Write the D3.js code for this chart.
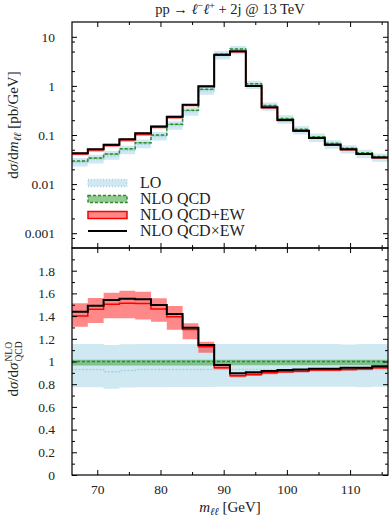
<!DOCTYPE html>
<html>
<head>
<meta charset="utf-8">
<script src="https://cdn.jsdelivr.net/npm/d3@7"></script>
<style>
  body { margin: 0; background: #fff; }
  svg { display: block; }
  text { font-family: "Liberation Serif", "DejaVu Serif", serif; fill: #222; }
</style>
</head>
<body>
<div id="chart"></div>
<script>
// bin edges in GeV (20 bins)
let binEdges = [66, 68.5, 71, 73.5, 76, 78.5, 81, 83.5, 86, 88.5, 91, 93.5, 96, 98.5, 101, 103.5, 106, 108.5, 111, 113.5, 116];

// NLO QCD central values [pb/GeV]
let nloQcd = [0.0295, 0.0342, 0.0412, 0.0526, 0.0698, 0.100, 0.166, 0.319, 0.856, 4.43,
              5.65, 1.105, 0.40, 0.218, 0.131, 0.0925, 0.0678, 0.054, 0.0434, 0.0365];
let nloQcdLo = [0.965, 0.965, 0.965, 0.965, 0.965, 0.965, 0.965, 0.965, 0.965, 0.965,
                0.966, 0.966, 0.966, 0.966, 0.966, 0.966, 0.966, 0.966, 0.966, 0.966];
let nloQcdHi = [1.015, 1.015, 1.015, 1.015, 1.015, 1.015, 1.015, 1.015, 1.015, 1.015,
                1.015, 1.015, 1.015, 1.015, 1.015, 1.015, 1.015, 1.015, 1.015, 1.015];

// ratios to NLO QCD
let loRatio = [0.93, 0.93, 0.91, 0.92, 0.93, 0.93, 0.93, 0.93, 0.93, 0.93,
               0.93, 0.93, 0.93, 0.93, 0.93, 0.93, 0.93, 0.93, 0.93, 0.93];
let loLo = [0.773, 0.773, 0.76, 0.77, 0.773, 0.773, 0.775, 0.775, 0.775, 0.778,
            0.778, 0.778, 0.778, 0.778, 0.778, 0.778, 0.778, 0.778, 0.774, 0.778];
let loHi = [1.154, 1.154, 1.145, 1.152, 1.154, 1.154, 1.154, 1.154, 1.148, 1.154,
            1.154, 1.154, 1.154, 1.154, 1.154, 1.154, 1.154, 1.15, 1.154, 1.154];

let ewPlus = [1.40, 1.46, 1.504, 1.513, 1.51, 1.463, 1.395, 1.283, 1.13, 0.945,
              0.875, 0.885, 0.90, 0.91, 0.915, 0.925, 0.925, 0.93, 0.935, 0.945];
let ewPlusLo = [1.307, 1.34, 1.38, 1.38, 1.37, 1.35, 1.28, 1.196, 1.078, 0.93,
                0.862, 0.872, 0.888, 0.898, 0.903, 0.913, 0.913, 0.918, 0.923, 0.933];
let ewPlusHi = [1.513, 1.56, 1.606, 1.624, 1.615, 1.557, 1.49, 1.336, 1.175, 0.96,
                0.888, 0.898, 0.912, 0.922, 0.927, 0.937, 0.937, 0.942, 0.947, 0.957];

let ewTimes = [1.439, 1.492, 1.542, 1.553, 1.548, 1.498, 1.418, 1.298, 1.145, 0.97,
               0.896, 0.905, 0.916, 0.925, 0.93, 0.937, 0.937, 0.945, 0.945, 0.958];

let xTicks = [70, 80, 90, 100, 110];
let topTicks = [10, 1, 0.1, 0.01, 0.001];
let topTickLabels = ["10", "1", "0.1", "0.01", "0.001"];
let botTicks = [0, 0.2, 0.4, 0.6, 0.8, 1, 1.2, 1.4, 1.6, 1.8];
let legendLabels = ["LO", "NLO QCD", "NLO QCD+EW", "NLO QCD\u00d7EW"];

let width = 390, height = 521,
    pLeft = 72, pRight = 388, pTop = 22, pMid = 248, pBottom = 475;

let svg = d3.select('#chart').append('svg')
    .attr('width', width)
    .attr('height', height);

let x = d3.scaleLinear().domain([66, 116]).range([pLeft, pRight]);
let yTop = d3.scaleLog().domain([0.0005, 20]).range([pMid, pTop]);
let yBot = d3.scaleLinear().domain([0, 2]).range([pBottom, pMid]);

let colors = {
    loFill: '#cfe8f1', loLine: '#a6d4e6',
    qcdFill: 'rgba(60,160,60,0.55)', qcdLine: '#2e8b2e',
    ewFill: 'rgba(255,40,40,0.55)', ewLine: '#ff0000',
    black: '#000'
};

// step helper: values per bin -> points incl. closing edge
function steps(vals) {
    let pts = vals.map((v, i) => [binEdges[i], v]);
    pts.push([binEdges[binEdges.length - 1], vals[vals.length - 1]]);
    return pts;
}

function drawPanel(g, y, series) {
    let line = d3.line().x(d => x(d[0])).y(d => y(d[1])).curve(d3.curveStepAfter);
    let area = d3.area().x(d => x(d[0])).y0(d => y(d[1])).y1(d => y(d[2])).curve(d3.curveStepAfter);
    series.forEach(s => {
        if (s.lo) {
            let pts = s.lo.map((v, i) => [binEdges[i], v, s.hi[i]]);
            pts.push([binEdges[binEdges.length - 1], s.lo[s.lo.length - 1], s.hi[s.hi.length - 1]]);
            g.append('path').attr('d', area(pts)).attr('fill', s.fill).attr('stroke', 'none');
        }
    });
    series.forEach(s => {
        g.append('path').attr('d', line(steps(s.mid)))
            .attr('fill', 'none')
            .attr('stroke', s.stroke)
            .attr('stroke-width', s.width)
            .attr('stroke-dasharray', s.dash || null)
            .attr('stroke-linecap', s.cap || 'butt');
    });
}

let defs = svg.append('defs');
defs.append('clipPath').attr('id', 'clipTop').append('rect')
    .attr('x', pLeft).attr('y', pTop).attr('width', pRight - pLeft).attr('height', pMid - pTop);
defs.append('clipPath').attr('id', 'clipBot').append('rect')
    .attr('x', pLeft).attr('y', pMid).attr('width', pRight - pLeft).attr('height', pBottom - pMid);

// upper panel
let gTop = svg.append('g').attr('clip-path', 'url(#clipTop)');
drawPanel(gTop, yTop, [
    {lo: nloQcd.map((v, i) => v * loLo[i]), hi: nloQcd.map((v, i) => v * loHi[i]),
     mid: nloQcd.map((v, i) => v * loRatio[i]), fill: colors.loFill, stroke: colors.loLine, width: 1.5, dash: '1,2.5', cap: 'round'},
    {lo: nloQcd.map((v, i) => v * nloQcdLo[i]), hi: nloQcd.map((v, i) => v * nloQcdHi[i]),
     mid: nloQcd, fill: colors.qcdFill, stroke: colors.qcdLine, width: 1.5, dash: '3,2'},
    {lo: nloQcd.map((v, i) => v * ewPlusLo[i]), hi: nloQcd.map((v, i) => v * ewPlusHi[i]),
     mid: nloQcd.map((v, i) => v * ewPlus[i]), fill: colors.ewFill, stroke: colors.ewLine, width: 1.5},
    {mid: nloQcd.map((v, i) => v * ewTimes[i]), stroke: colors.black, width: 2}
]);

// lower panel (ratio to NLO QCD)
let gBot = svg.append('g').attr('clip-path', 'url(#clipBot)');
drawPanel(gBot, yBot, [
    {lo: loLo, hi: loHi, mid: loRatio, fill: colors.loFill, stroke: colors.loLine, width: 1.5, dash: '1,2.5', cap: 'round'},
    {lo: nloQcdLo, hi: nloQcdHi, mid: nloQcd.map(() => 1), fill: colors.qcdFill, stroke: colors.qcdLine, width: 1.5, dash: '3,2'},
    {lo: ewPlusLo, hi: ewPlusHi, mid: ewPlus, fill: colors.ewFill, stroke: colors.ewLine, width: 1.5},
    {mid: ewTimes, stroke: colors.black, width: 2}
]);

// axes
let fs = '13.5px';
function styleAxis(g) {
    g.select('.domain').remove();
    g.selectAll('line').attr('stroke', '#000').attr('stroke-width', 1);
    g.selectAll('text').style('font-size', fs).attr('fill', '#222');
}

let xMinor = d3.range(65, 117, 5).filter(v => v % 10 !== 0 && v > 66);

[[pMid, pBottom], [pTop, pMid]].forEach(([yt, yb], k) => {
    // bottom edge of panel, ticks upward
    svg.append('g').attr('transform', `translate(0,${yb})`)
        .call(d3.axisBottom(x).tickValues(xTicks).tickSize(-5).tickFormat(k === 0 ? d3.format('d') : ''))
        .call(styleAxis)
        .call(g => g.selectAll('text').attr('dy', '1.15em'));
    svg.append('g').attr('transform', `translate(0,${yb})`)
        .call(d3.axisBottom(x).tickValues(xMinor).tickSize(-3).tickFormat(''))
        .call(styleAxis);
    // top edge, ticks downward
    svg.append('g').attr('transform', `translate(0,${yt})`)
        .call(d3.axisTop(x).tickValues(xTicks).tickSize(-5).tickFormat(''))
        .call(styleAxis);
    svg.append('g').attr('transform', `translate(0,${yt})`)
        .call(d3.axisTop(x).tickValues(xMinor).tickSize(-3).tickFormat(''))
        .call(styleAxis);
});

// log y axis
let logMinor = [];
[-4, -3, -2, -1, 0, 1].forEach(e => [2, 5, 8].forEach(m => {
    let v = m * Math.pow(10, e);
    if (v > 0.0005 && v < 20) logMinor.push(v);
}));
svg.append('g').attr('transform', `translate(${pLeft},0)`)
    .call(d3.axisLeft(yTop).tickValues(topTicks).tickSize(-5).tickPadding(17)
        .tickFormat((d, i) => topTickLabels[i]))
    .call(styleAxis);
svg.append('g').attr('transform', `translate(${pLeft},0)`)
    .call(d3.axisLeft(yTop).tickValues(logMinor).tickSize(-3).tickFormat(''))
    .call(styleAxis);
svg.append('g').attr('transform', `translate(${pRight},0)`)
    .call(d3.axisRight(yTop).tickValues(topTicks).tickSize(-5).tickFormat(''))
    .call(styleAxis);
svg.append('g').attr('transform', `translate(${pRight},0)`)
    .call(d3.axisRight(yTop).tickValues(logMinor).tickSize(-3).tickFormat(''))
    .call(styleAxis);

// ratio y axis
let botMinor = d3.range(0.1, 2, 0.2);
svg.append('g').attr('transform', `translate(${pLeft},0)`)
    .call(d3.axisLeft(yBot).tickValues(botTicks).tickSize(-5).tickPadding(17)
        .tickFormat(d => d3.format('')(+d.toFixed(1))))
    .call(styleAxis);
svg.append('g').attr('transform', `translate(${pLeft},0)`)
    .call(d3.axisLeft(yBot).tickValues(botMinor).tickSize(-3).tickFormat(''))
    .call(styleAxis);
svg.append('g').attr('transform', `translate(${pRight},0)`)
    .call(d3.axisRight(yBot).tickValues(botTicks).tickSize(-5).tickFormat(''))
    .call(styleAxis);
svg.append('g').attr('transform', `translate(${pRight},0)`)
    .call(d3.axisRight(yBot).tickValues(botMinor).tickSize(-3).tickFormat(''))
    .call(styleAxis);

// frames
[[pTop, pMid], [pMid, pBottom]].forEach(([a, b]) => {
    svg.append('rect')
        .attr('x', pLeft).attr('y', a)
        .attr('width', pRight - pLeft).attr('height', b - a)
        .attr('fill', 'none').attr('stroke', '#000').attr('stroke-width', 1.2);
});

// title
let title = svg.append('text')
    .attr('x', (pLeft + pRight) / 2).attr('y', 14)
    .attr('text-anchor', 'middle')
    .style('font-size', '14.5px');
title.append('tspan').text('pp \u2192 ');
title.append('tspan').style('font-style', 'italic').text('\u2113');
title.append('tspan').attr('dy', -5).style('font-size', '10px').text('\u2212');
title.append('tspan').attr('dy', 5).style('font-style', 'italic').text('\u2113');
title.append('tspan').attr('dy', -5).style('font-size', '10px').text('+');
title.append('tspan').attr('dy', 5).text(' + 2j @ 13 TeV');

// x label
let xl = svg.append('text')
    .attr('x', (pLeft + pRight) / 2).attr('y', 512)
    .attr('text-anchor', 'middle')
    .style('font-size', '15px');
xl.append('tspan').style('font-style', 'italic').text('m');
xl.append('tspan').attr('dy', 3).style('font-size', '10.5px').style('font-style', 'italic').text('\u2113\u2113');
xl.append('tspan').attr('dy', -3).text(' [GeV]');

// y label, upper
let yl1 = svg.append('text')
    .attr('transform', `translate(18,${(pTop + pMid) / 2 - 10}) rotate(-90)`)
    .attr('text-anchor', 'middle')
    .style('font-size', '15px');
yl1.append('tspan').text('d');
yl1.append('tspan').style('font-style', 'italic').text('\u03c3');
yl1.append('tspan').text('/d');
yl1.append('tspan').style('font-style', 'italic').text('m');
yl1.append('tspan').attr('dy', 3).style('font-size', '10.5px').style('font-style', 'italic').text('\u2113\u2113');
yl1.append('tspan').attr('dy', -3).text(' [pb/GeV]');

// y label, lower: d sigma / d sigma^NLO_QCD
let yl2 = svg.append('g')
    .attr('transform', `translate(18,${(pMid + pBottom) / 2}) rotate(-90)`);
let main2 = yl2.append('text').attr('x', -35).style('font-size', '15px');
main2.append('tspan').text('d');
main2.append('tspan').style('font-style', 'italic').text('\u03c3');
main2.append('tspan').text('/d');
main2.append('tspan').style('font-style', 'italic').text('\u03c3');
let w2 = main2.node().getComputedTextLength();
yl2.append('text').attr('x', -35 + w2 + 1).attr('y', -6).style('font-size', '9.5px').text('NLO');
yl2.append('text').attr('x', -35 + w2 + 1).attr('y', 4).style('font-size', '9.5px').text('QCD');

// legend
let legend = svg.append('g').attr('transform', 'translate(88,183)');
let rowH = 16;
legendLabels.forEach((lab, i) => {
    let row = legend.append('g').attr('transform', `translate(0,${i * rowH})`);
    if (i === 0) {
        row.append('rect').attr('x', 0).attr('y', -3.5).attr('width', 39).attr('height', 7)
            .attr('fill', colors.loFill).attr('stroke', colors.loLine).attr('stroke-width', 1.5)
            .attr('stroke-dasharray', '1,2');
    } else if (i === 1) {
        row.append('rect').attr('x', 0).attr('y', -3.5).attr('width', 39).attr('height', 7)
            .attr('fill', colors.qcdFill).attr('stroke', colors.qcdLine).attr('stroke-width', 1.5)
            .attr('stroke-dasharray', '3,2');
    } else if (i === 2) {
        row.append('rect').attr('x', 0).attr('y', -3.5).attr('width', 39).attr('height', 7)
            .attr('fill', colors.ewFill).attr('stroke', colors.ewLine).attr('stroke-width', 1.5);
    } else {
        row.append('line').attr('x1', 0).attr('x2', 39).attr('y1', 0).attr('y2', 0)
            .attr('stroke', colors.black).attr('stroke-width', 2);
    }
    row.append('text').attr('x', 52).attr('y', 5)
        .style('font-size', '16px').text(lab);
});
</script>
</body>
</html>
